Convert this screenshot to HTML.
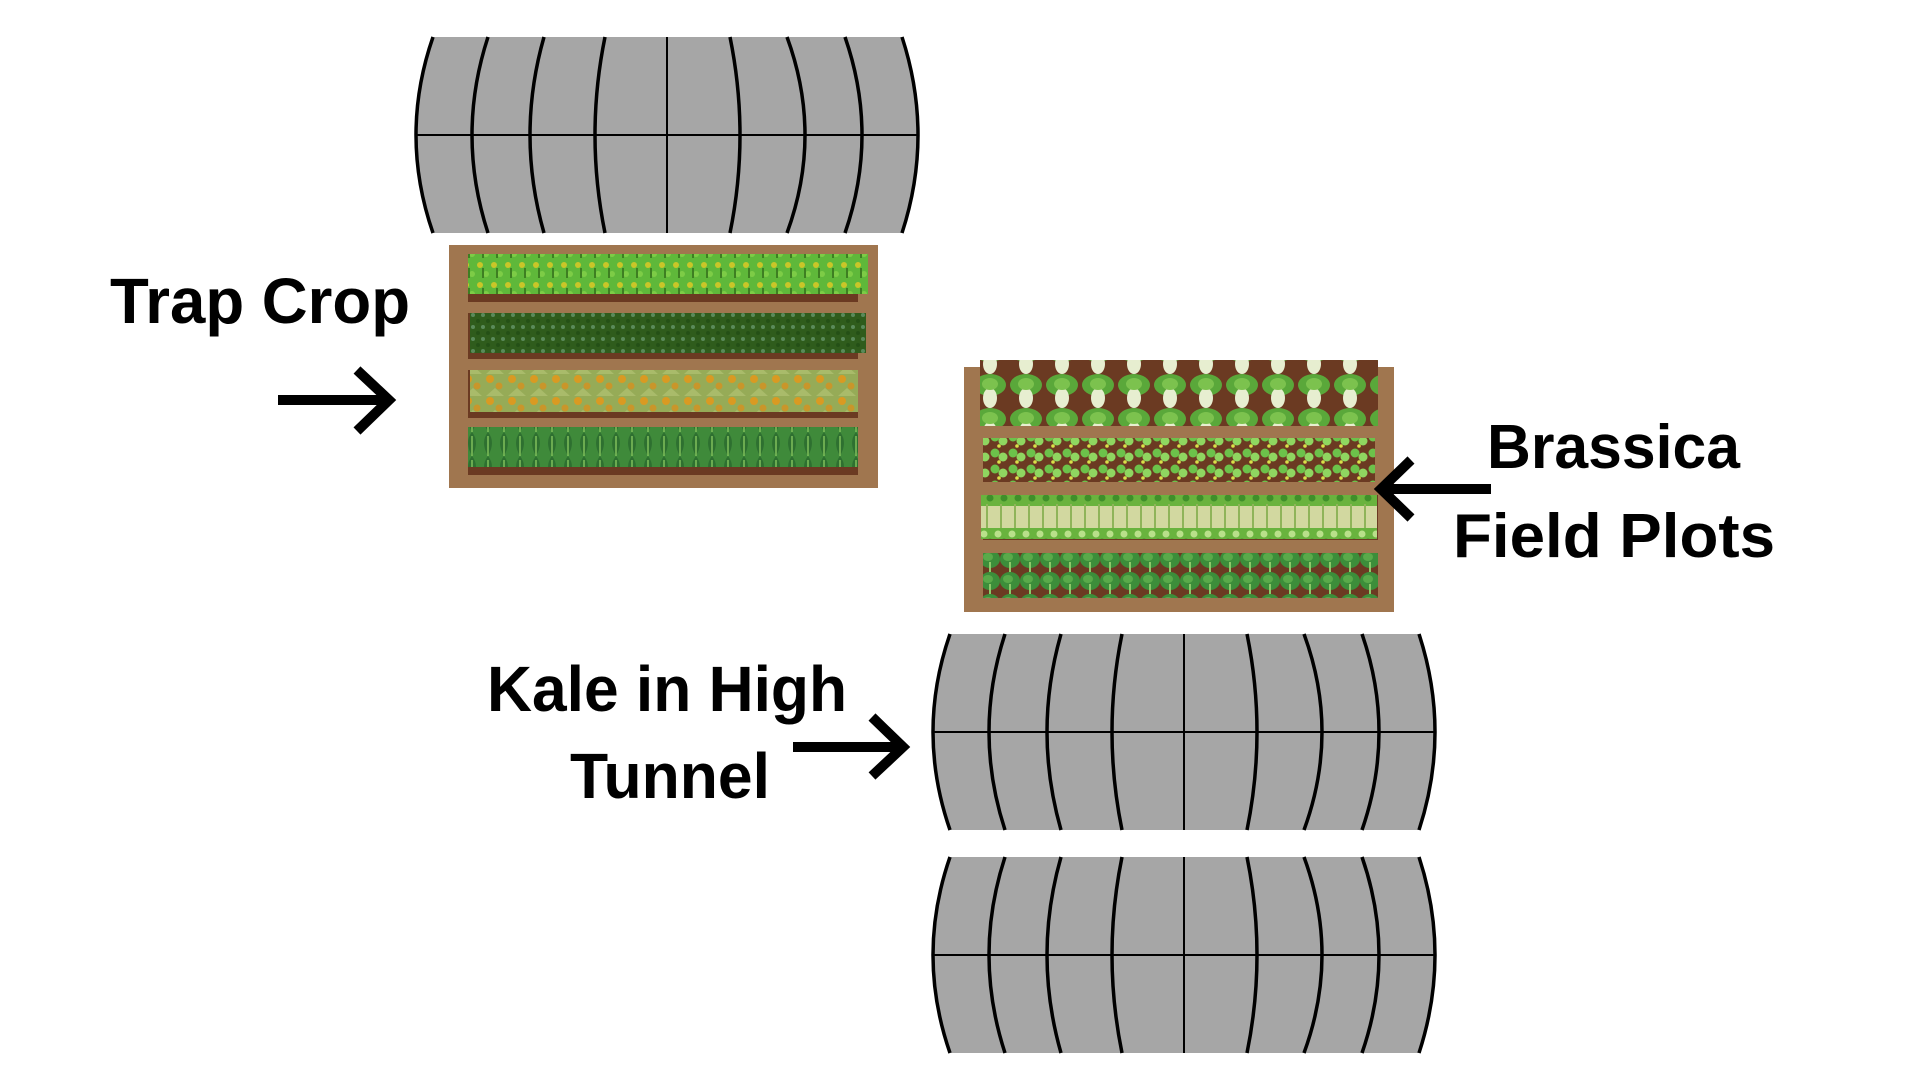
<!DOCTYPE html>
<html><head><meta charset="utf-8"><style>
html,body{margin:0;padding:0;background:#fff;width:1920px;height:1080px;overflow:hidden}
svg{display:block}
text{font-family:"Liberation Sans",sans-serif;font-weight:bold;fill:#000}
</style></head><body>
<svg width="1920" height="1080" viewBox="0 0 1920 1080" xmlns="http://www.w3.org/2000/svg">
<defs>
<g id="tun">
<path d="M17,0 L486,0 Q518,98 486,196 L17,196 Q-17,98 17,0 Z" fill="#a6a6a6"/>
<line x1="0" y1="98" x2="502" y2="98" stroke="#000" stroke-width="2"/>
<line x1="251" y1="0" x2="251" y2="196" stroke="#000" stroke-width="2"/>
<g fill="none" stroke="#000" stroke-width="3.5">
<path d="M17,0 Q-17,98 17,196"/>
<path d="M72,0 Q40,98 72,196"/>
<path d="M128,0 Q100,98 128,196"/>
<path d="M189,0 Q169,98 189,196"/>
<path d="M314,0 Q334,98 314,196"/>
<path d="M371,0 Q407,98 371,196"/>
<path d="M429,0 Q463,98 429,196"/>
<path d="M486,0 Q518,98 486,196"/>
</g>
</g>
<pattern id="p1" width="14" height="20" patternUnits="userSpaceOnUse"><rect width="14" height="20" fill="#5fb83a"/><circle cx="4" cy="5" r="3" fill="#c9c628"/><circle cx="10" cy="14" r="3" fill="#7dcc46"/><rect x="6" y="8" width="2" height="10" fill="#3e7f22"/></pattern>
<pattern id="p2" width="10" height="12" patternUnits="userSpaceOnUse"><rect width="10" height="12" fill="#2f5c1c"/><circle cx="3" cy="3" r="2" fill="#5a8a5a"/><circle cx="8" cy="9" r="2" fill="#245016"/></pattern>
<pattern id="p3" width="22" height="22" patternUnits="userSpaceOnUse"><rect width="22" height="22" fill="#96ab57"/><circle cx="6" cy="5" r="4" fill="#d99a22"/><circle cx="15" cy="12" r="3.5" fill="#c9962a"/><path d="M2,22 L11,14 L20,22Z" fill="#a9bb6a"/></pattern>
<pattern id="p4" width="16" height="24" patternUnits="userSpaceOnUse"><rect width="16" height="24" fill="#3f8a3a"/><path d="M8,0 Q16,10 8,24 Q0,10 8,0Z" fill="#2e7030"/><line x1="8" y1="4" x2="8" y2="24" stroke="#7fbf5a" stroke-width="1.5"/></pattern>
<pattern id="q1" width="36" height="34" patternUnits="userSpaceOnUse"><rect width="36" height="34" fill="#6b3a22"/><ellipse cx="18" cy="11" rx="16" ry="11" fill="#5aa83a"/><ellipse cx="18" cy="24" rx="7" ry="10" fill="#e7eed0"/><ellipse cx="18" cy="10" rx="8" ry="6" fill="#7cc24e"/></pattern>
<pattern id="q2" width="18" height="16" patternUnits="userSpaceOnUse"><rect width="18" height="16" fill="#6b3a22"/><circle cx="5" cy="5" r="4.5" fill="#6cc24a"/><circle cx="13" cy="9" r="4.5" fill="#8fd660"/><circle cx="9" cy="14" r="1.8" fill="#d9e048"/></pattern>
<pattern id="q3" width="14" height="44" patternUnits="userSpaceOnUse"><rect width="14" height="44" fill="#d2d8a0"/><rect width="14" height="22" fill="#69b33e"/><circle cx="4" cy="6" r="3.5" fill="#b9e08a"/><circle cx="10" cy="14" r="3.5" fill="#3f8f2a"/><line x1="7" y1="20" x2="7" y2="44" stroke="#8fb45a" stroke-width="2"/></pattern>
<pattern id="q4" width="20" height="22" patternUnits="userSpaceOnUse"><rect width="20" height="22" fill="#6b3a22"/><ellipse cx="10" cy="9" rx="10" ry="9" fill="#3c8e3a"/><ellipse cx="8" cy="7" rx="5" ry="4" fill="#5aaa4a"/><line x1="10" y1="12" x2="10" y2="22" stroke="#8fc86a" stroke-width="2"/></pattern>
</defs>

<use href="#tun" x="416" y="37"/>
<use href="#tun" x="933" y="634"/>
<use href="#tun" x="933" y="857"/>

<!-- trap crop plot -->
<rect x="449" y="245" width="429" height="243" fill="#a0764f"/>
<rect x="468" y="254" width="390" height="48" fill="#6b3a22"/>
<rect x="468" y="254" width="400" height="40" fill="url(#p1)"/>
<rect x="468" y="313" width="390" height="46" fill="#6b3a22"/>
<rect x="470" y="313" width="396" height="40" fill="url(#p2)"/>
<rect x="468" y="370" width="390" height="48" fill="#6b3a22"/>
<rect x="470" y="370" width="388" height="42" fill="url(#p3)"/>
<rect x="468" y="427" width="390" height="48" fill="#6b3a22"/>
<rect x="468" y="427" width="390" height="40" fill="url(#p4)"/>

<!-- brassica plot -->
<rect x="964" y="367" width="430" height="245" fill="#a0764f"/>
<rect x="985" y="380" width="390" height="45" fill="#6b3a22"/>
<rect x="980" y="360" width="398" height="66" fill="url(#q1)"/>
<rect x="983" y="438" width="392" height="44" fill="url(#q2)"/>
<rect x="983" y="495" width="395" height="45" fill="#6b3a22"/>
<rect x="981" y="495" width="396" height="44" fill="url(#q3)"/>
<rect x="983" y="553" width="395" height="45" fill="url(#q4)"/>

<!-- labels -->
<text x="110" y="323" font-size="64" textLength="300" lengthAdjust="spacingAndGlyphs">Trap Crop</text>
<text x="487" y="711" font-size="64" textLength="360" lengthAdjust="spacingAndGlyphs">Kale in High</text>
<text x="570" y="798" font-size="64" textLength="200" lengthAdjust="spacingAndGlyphs">Tunnel</text>
<text x="1487" y="468" font-size="62" textLength="253" lengthAdjust="spacingAndGlyphs">Brassica</text>
<text x="1453" y="557" font-size="62" textLength="322" lengthAdjust="spacingAndGlyphs">Field Plots</text>

<!-- arrows -->
<g stroke="#000" stroke-width="10" fill="none" stroke-linecap="butt">
<line x1="278" y1="400" x2="388" y2="400"/>
<polyline points="357,370 389,400 357,431"/>
<line x1="793" y1="747" x2="902" y2="747"/>
<polyline points="872,717 903,747 872,776"/>
<line x1="1491" y1="489" x2="1382" y2="489"/>
<polyline points="1411,460 1381,489 1411,518"/>
</g>
</svg>
</body></html>
